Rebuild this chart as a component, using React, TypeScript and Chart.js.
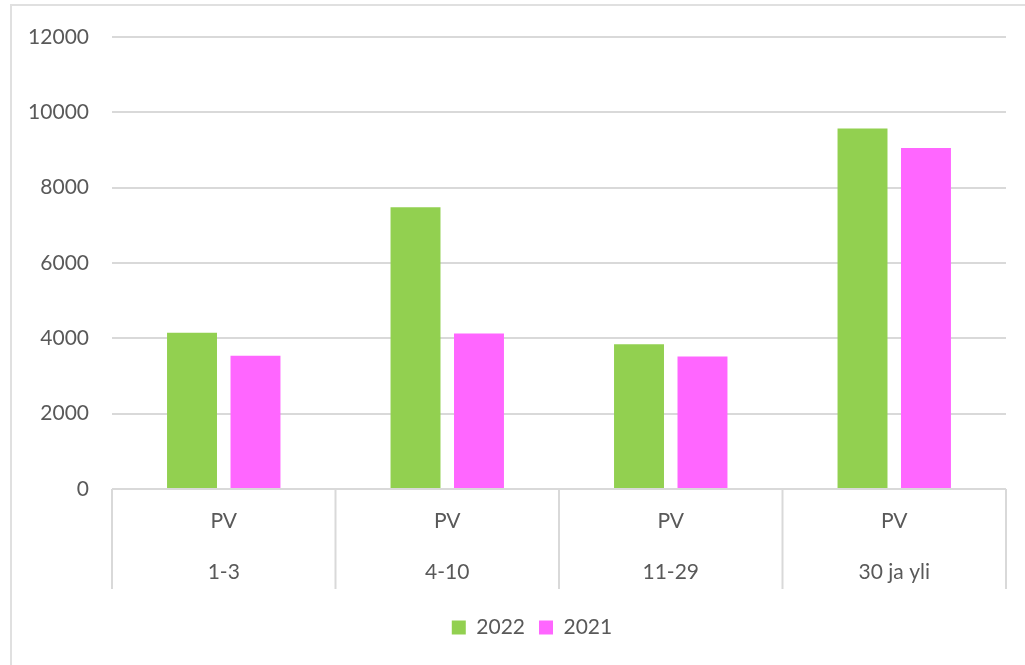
import React, { useEffect, useRef } from "react";
import { Chart, registerables } from "chart.js";

Chart.register(...registerables);

const groups = ["1-3", "4-10", "11-29", "30 ja yli"];
const topLabel = "PV";
const seriesNames = ["2022", "2021"];
const values2022 = [4150, 7480, 3840, 9570];
const values2021 = [3540, 4130, 3520, 9050];
const yTicks = [0, 2000, 4000, 6000, 8000, 10000, 12000];

const TEXT = "#595959";
const GRID = "#D9D9D9";
const FONT = "Lato, 'Open Sans', sans-serif";

const separators = {
  id: "separators",
  afterLayout(chart: any) {
    const lg = chart.legend;
    if (lg) {
      lg.left += 58;
      lg.width = lg.right - lg.left;
    }
  },
  afterDraw(chart: any) {
    const xs = chart.scales.x;
    const area = chart.chartArea;
    const ctx = chart.ctx;
    const n = groups.length;
    ctx.save();
    ctx.strokeStyle = GRID;
    ctx.lineWidth = 2;
    for (let i = 0; i <= n; i++) {
      const x = xs.left + (xs.width * i) / n;
      ctx.beginPath();
      ctx.moveTo(x, area.bottom);
      ctx.lineTo(x, area.bottom + 100);
      ctx.stroke();
    }
    ctx.restore();
  },
};

export default function App() {
  const ref = useRef<HTMLCanvasElement>(null);
  useEffect(() => {
    if (!ref.current) return;
    const chart = new Chart(ref.current, {
      type: "bar",
      data: {
        labels: groups.map((g) => [topLabel, g]),
        datasets: [
          { label: seriesNames[0], data: values2022, backgroundColor: "#92D050", borderWidth: 0 },
          { label: seriesNames[1], data: values2021, backgroundColor: "#FF66FF", borderWidth: 0 },
        ],
      },
      options: {
        animation: false,
        responsive: true,
        maintainAspectRatio: false,
        layout: { padding: { left: 0, right: 19, top: 37, bottom: 17 } },
        datasets: { bar: { categoryPercentage: 0.568, barPercentage: 0.787 } },
        scales: {
          x: {
            grid: { display: false },
            border: { display: false },
            ticks: {
              color: TEXT,
              font: { family: FONT, size: 21, lineHeight: "51px" },
              padding: -1,
              maxRotation: 0,
              autoSkip: false,
            },
            afterFit: (s: any) => {
              s.height = 114;
            },
          },
          y: {
            min: 0,
            max: 12000,
            afterBuildTicks: (s: any) => {
              s.ticks = yTicks.map((v) => ({ value: v }));
            },
            grid: { color: GRID, lineWidth: 2, drawTicks: false },
            border: { display: false },
            ticks: {
              color: TEXT,
              font: { family: FONT, size: 21 },
              padding: 23,
              callback: (v: any) => String(v),
            },
            afterFit: (s: any) => {
              s.width = 112;
            },
          },
        },
        plugins: {
          legend: {
            position: "bottom",
            labels: {
              color: TEXT,
              font: { family: FONT, size: 21 },
              boxWidth: 14,
              boxHeight: 14,
              padding: 14,
            },
          },
          tooltip: { enabled: false },
        },
      },
      plugins: [separators],
    });
    return () => chart.destroy();
  }, []);
  return (
    <div style={{ position: "absolute", left: 0, top: 0, width: 1025, height: 665, background: "#fff" }}>
      <div
        style={{
          position: "absolute",
          left: 10,
          top: 4,
          width: 1030,
          height: 680,
          border: "2px solid #E0E0E0",
          boxSizing: "border-box",
        }}
      />
      <div style={{ position: "absolute", left: 0, top: 0, width: 1025, height: 665 }}>
        <canvas ref={ref} />
      </div>
    </div>
  );
}
